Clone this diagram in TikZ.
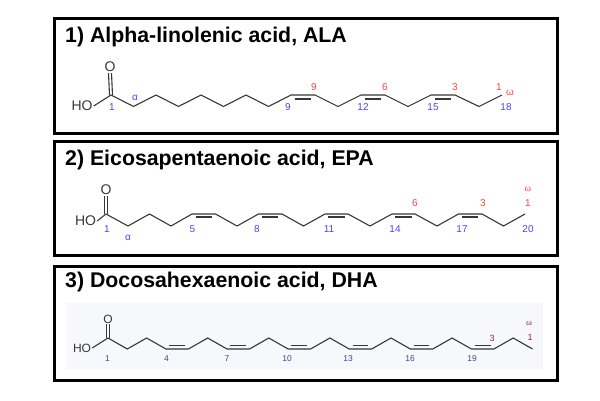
\documentclass[tikz,border=0pt]{standalone}
\usepackage{fontspec}
\setmainfont{Liberation Sans}
\newfontfamily\greekserif{Liberation Serif}
\usetikzlibrary{calc}

\definecolor{bondgray}{RGB}{55,55,55}
\definecolor{numblue}{RGB}{70,70,255}
\definecolor{numred}{RGB}{255,70,70}
\definecolor{dhablue}{RGB}{55,75,140}
\definecolor{dhared}{RGB}{165,35,55}
\definecolor{dhaback}{RGB}{246,248,252}

\tikzset{
  panel/.style={draw=black, line width=3pt},
  title/.style={anchor=base west, inner sep=0pt, font=\fontsize{21.3}{25}\selectfont\bfseries},
  bond/.style={draw=bondgray, line width=1.1pt},
  atom/.style={inner sep=1pt, text=bondgray, font=\fontsize{14}{16}\selectfont},
  bluenum/.style={inner sep=0pt, text=numblue, font=\fontsize{10}{12}\selectfont},
  rednum/.style={inner sep=0pt, text=numred, font=\fontsize{10}{12}\selectfont},
  dhanum/.style={inner sep=0pt, text=dhablue, font=\fontsize{8.5}{10}\selectfont},
  dhared/.style={inner sep=0pt, text=dhared, font=\fontsize{9}{10}\selectfont},
}

\begin{document}
\begin{tikzpicture}[x=1pt, y=-1pt]
  \useasboundingbox (0,0) rectangle (600,400);

  % panels
  \draw[panel] (54.5,18) rectangle (557,133.5);
  \draw[panel] (54.5,141.5) rectangle (557,255);
  \draw[panel] (54.5,266) rectangle (557,380);
  \fill[dhaback] (67,303) rectangle (543,369);

  \node[title] (t1) at (65,42.5) {1) Alpha-linolenic acid, ALA};
  \node[title] (t2) at (65,165) {2) Eicosapentaenoic acid, EPA};
  \node[title] (t3) at (65,287) {3) Docosahexaenoic acid, DHA};

  % ALA
  \foreach \i/\x/\y in {1/111/95, 2/133.5/106.5, 3/156/95, 4/178.5/106.5,
      5/201/95, 6/223.5/106.5, 7/246/95, 8/268.5/106.5, 9/291/95, 10/315/95,
      11/338/106.5, 12/361/95, 13/385/95, 14/408/106.5, 15/431/95, 16/455/95,
      17/479/106.5, 18/502/95}
    \coordinate (a\i) at (\x,\y);
  \node[atom] (o1) at (110,67) {O};
  \node[atom] (ho1) at (82,106) {HO};
  \draw[bond] ([xshift=-1.5pt]o1.south) -- ([xshift=-1.5pt]a1);
  \draw[bond] ([xshift=1.5pt]o1.south) -- ([xshift=1.5pt]a1);
  \draw[bond] (ho1.east) -- (a1);
  \draw[bond] (a1) \foreach \i in {2,...,18} { -- (a\i) };
  \foreach \i/\j in {9/10, 12/13, 15/16}
    \draw[bond] ([yshift=-4pt]$(a\i)!.15!(a\j)$) -- ([yshift=-4pt]$(a\i)!.85!(a\j)$);

  \node[bluenum] (n1) at (112,107) {1};
  \node[bluenum] (na) at (135,98) {α};
  \node[bluenum] (n9) at (288,107) {9};
  \node[bluenum] (n12) at (363,107) {12};
  \node[bluenum] (n15) at (433,107) {15};
  \node[bluenum] (n18) at (506,107) {18};
  \node[rednum] (r9) at (314,87) {9};
  \node[rednum] (r6) at (385,87) {6};
  \node[rednum] (r3) at (455,87) {3};
  \node[rednum] (r1) at (499,87) {1};
  \node[rednum] (rw) at (510,93) {ω};

  % EPA
  \foreach \i/\x/\y in {1/106/214, 2/128/226, 3/149.5/214, 4/171/226,
      5/192/214, 6/215.5/214, 7/237/226, 8/258.5/214, 9/282/214, 10/303.5/226,
      11/325/214, 12/348/214, 13/370/226, 14/392/214, 15/415/214, 16/437/226,
      17/458.5/214, 18/482/214, 19/503.5/226, 20/525/214}
    \coordinate (b\i) at (\x,\y);
  \node[atom] (o2) at (106,190) {O};
  \node[atom] (ho2) at (85.5,221) {HO};
  \draw[bond] ([xshift=-1.5pt]o2.south) -- ([xshift=-1.5pt]b1);
  \draw[bond] ([xshift=1.5pt]o2.south) -- ([xshift=1.5pt]b1);
  \draw[bond] (ho2.east) -- (b1);
  \draw[bond] (b1) \foreach \i in {2,...,20} { -- (b\i) };
  \foreach \i/\j in {5/6, 8/9, 11/12, 14/15, 17/18}
    \draw[bond] ([yshift=-3pt]$(b\i)!.15!(b\j)$) -- ([yshift=-3pt]$(b\i)!.85!(b\j)$);

  \node[bluenum] (m1) at (107,229) {1};
  \node[bluenum] (ma) at (128,238) {α};
  \node[bluenum] (m5) at (192.5,229) {5};
  \node[bluenum] (m8) at (257,229) {8};
  \node[bluenum] (m11) at (329,229) {11};
  \node[bluenum] (m14) at (395,229) {14};
  \node[bluenum] (m17) at (462,229) {17};
  \node[bluenum] (m20) at (528,229) {20};
  \node[rednum] (s6) at (415,203) {6};
  \node[rednum] (s3) at (483,203) {3};
  \node[rednum] (s1) at (528,203) {1};
  \node[rednum] (sw) at (528,189) {\greekserif ω};

  % DHA
  \foreach \i/\x/\y in {1/108/338, 2/127.3/349, 3/146.6/338, 4/165.9/349,
      5/188.4/349, 6/207.7/338, 7/227/349, 8/249.5/349, 9/268.8/338,
      10/288.1/349, 11/310.6/349, 12/329.9/338, 13/349.2/349, 14/371.7/349,
      15/391/338, 16/410.3/349, 17/432.8/349, 18/452.1/338, 19/471.4/349,
      20/493.9/349, 21/513.2/338, 22/532.5/349}
    \coordinate (d\i) at (\x,\y);
  \node[atom, font=\fontsize{12}{14}\selectfont] (o3) at (108,319) {O};
  \node[atom, font=\fontsize{12}{14}\selectfont] (ho3) at (82,348) {HO};
  \draw[bond] ([xshift=-1.3pt]o3.south) -- ([xshift=-1.3pt]d1);
  \draw[bond] ([xshift=1.3pt]o3.south) -- ([xshift=1.3pt]d1);
  \draw[bond] (ho3.east) -- (d1);
  \draw[bond] (d1) \foreach \i in {2,...,22} { -- (d\i) };
  \foreach \i/\j in {4/5, 7/8, 10/11, 13/14, 16/17, 19/20}
    \draw[bond] ([yshift=3.5pt]$(d\i)!.15!(d\j)$) -- ([yshift=3.5pt]$(d\i)!.85!(d\j)$);

  \node[dhanum] (k1) at (107.5,358.5) {1};
  \node[dhanum] (k4) at (166.5,358.5) {4};
  \node[dhanum] (k7) at (227,358.5) {7};
  \node[dhanum] (k10) at (287,358.5) {10};
  \node[dhanum] (k13) at (348,358.5) {13};
  \node[dhanum] (k16) at (410,358.5) {16};
  \node[dhanum] (k19) at (472,358.5) {19};
  \node[dhared] (q3) at (492,338) {3};
  \node[dhared] (q1) at (530,337.5) {1};
  \node[dhared] (qw) at (529,323) {\greekserif ω};
\end{tikzpicture}
\end{document}
